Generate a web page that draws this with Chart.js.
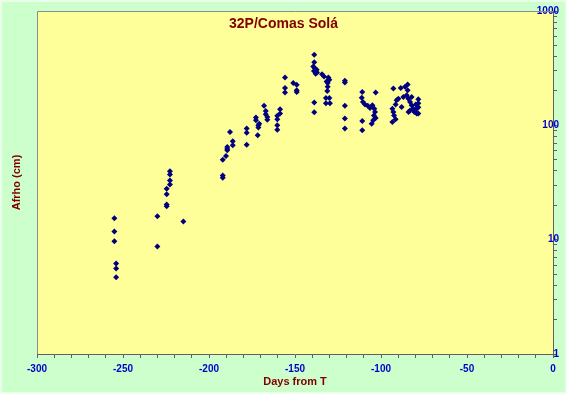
<!DOCTYPE html>
<html lang="en">
<head>
    <meta charset="UTF-8">
    <title>32P/Comas Solá</title>
    <script src="https://cdn.jsdelivr.net/npm/chart.js"></script>
    <style>
        html, body {
            margin: 0;
            padding: 0;
            background: #ccffcc;
        }
        canvas {
            display: block;
        }
    </style>
</head>
<body>
    <canvas id="afrhoChart" width="567" height="394"></canvas>
    <script>
        const days = [
            -255, -255, -255, -254, -254, -254,
            -230, -230,
            -224.6, -224.6, -224.6, -224.6,
            -222.7, -222.7, -222.7, -222.7,
            -214.9,
            -192, -192, -192,
            -190.1,
            -189.4, -189.4, -189.4,
            -187.8,
            -186.2, -186.2,
            -178.1, -178.1, -178.1,
            -172.7, -172.7,
            -171.7,
            -171.3, -171.3,
            -170.8,
            -168,
            -167, -167,
            -166.1, -166.1,
            -160.3, -160.3, -160.3, -160.3,
            -158.7, -158.7,
            -155.8, -155.8, -155.8,
            -151,
            -149, -149, -149,
            -138.8, -138.8, -138.8, -138.8,
            -139.4, -138.4, -137.4, -139, -137.2, -138,
            -134.3, -133.1, -130.6, -130, -131.6,
            -131, -131, -131.2,
            -132, -132, -130, -129.7,
            -121, -121, -121, -121, -121,
            -110.9, -110.9, -110.9,
            -111.2, -110.5, -109.3, -107.7, -106.4, -105, -103.9, -103.5, -104.1,
            -103.1, -103.1, -104.5, -105.4,
            -92.8, -92.8, -88.5, -86, -84.5, -84.5,
            -90.9, -89.9, -91.5, -91.5, -93.4, -93.4, -92.4,
            -87, -85.1, -84.1, -83.1, -83.1, -82.2, -82.2, -81.2, -80.6, -79.8, -79.2, -79.2,
            -78.3, -78.3, -78.3, -78.3,
            -88, -84
        ];
        const afrho = [
            15.4, 11.8, 9.7, 6.2, 5.6, 4.7,
            16.0, 8.7,
            19.6, 20.3, 25.0, 27.9,
            39.7, 37.2, 32.9, 30.4,
            14.4,
            36.4, 34.8, 50.0,
            53.8,
            64.5, 62.0, 60.4,
            87.3,
            72.4, 66.8,
            94, 86.3, 67.7,
            117, 110.7,
            81.7,
            100, 95.5,
            103.5,
            148,
            133.6, 125,
            118, 112,
            121, 113, 100, 91.7,
            138, 127,
            262, 212, 194,
            235,
            227, 203, 196,
            414, 357, 158, 130,
            327, 316, 306, 298, 290, 282,
            280, 267, 262, 250, 242,
            234, 218, 200,
            173, 156, 173, 156,
            245, 237, 148, 115, 94,
            196, 109, 90.4,
            174, 160, 152, 148, 142, 150, 140, 131, 122,
            116, 194, 111, 103.5,
            210, 131, 212, 217, 228, 203,
            166, 171, 152, 113, 140, 107, 122,
            177, 183, 171, 160, 135, 177, 150, 140, 131, 152, 140, 127,
            169, 156, 144, 127,
            145, 131
        ];

        // Axis ticks
        const xTicks = [-300, -290, -280, -270, -260, -250, -240, -230, -220, -210,
            -200, -190, -180, -170, -160, -150, -140, -130, -120, -110,
            -100, -90, -80, -70, -60, -50, -40, -30, -20, -10, 0];
        const xLabels = [-300, -250, -200, -150, -100, -50, 0];
        const yTicks = [1, 2, 3, 4, 5, 6, 7, 8, 9,
            10, 20, 30, 40, 50, 60, 70, 80, 90,
            100, 200, 300, 400, 500, 600, 700, 800, 900, 1000];
        const yLabels = [1, 10, 100, 1000];

        const points = days.map((d, i) => ({ x: d, y: afrho[i] }));

        const labelFont = { family: "'Liberation Sans', Arial, sans-serif", size: 10, weight: 'bold', lineHeight: 1 };
        const titleFont = { family: "'Liberation Sans', Arial, sans-serif", size: 11, weight: 'bold' };

        // Green page, yellow plot area, grey frame and the chart title
        const backdrop = {
            id: 'backdrop',
            beforeDraw(chart) {
                const { ctx, chartArea: a } = chart;
                ctx.save();
                ctx.fillStyle = '#ccffcc';
                ctx.fillRect(0, 0, chart.width, chart.height);
                ctx.strokeStyle = '#eaffea';
                ctx.lineWidth = 2;
                ctx.strokeRect(1, 1, chart.width - 2, chart.height - 2);
                ctx.fillStyle = '#ffff99';
                ctx.fillRect(a.left, a.top, a.right - a.left, a.bottom - a.top);
                ctx.restore();
            },
            afterDraw(chart) {
                const { ctx, chartArea: a } = chart;
                ctx.save();
                ctx.strokeStyle = '#8c8c8c';
                ctx.lineWidth = 1;
                ctx.beginPath();
                ctx.moveTo(a.left + 0.5, a.bottom);
                ctx.lineTo(a.left + 0.5, a.top + 0.5);
                ctx.lineTo(a.right, a.top + 0.5);
                ctx.stroke();
                ctx.fillStyle = '#800000';
                ctx.font = "bold 14px 'Liberation Sans', Arial, sans-serif";
                ctx.textAlign = 'center';
                ctx.textBaseline = 'middle';
                ctx.fillText('32P/Comas Solá', chart.width / 2, 24);
                ctx.restore();
            }
        };

        const ctx = document.getElementById('afrhoChart').getContext('2d');
        new Chart(ctx, {
            type: 'scatter',
            data: {
                datasets: [{
                    data: points,
                    pointStyle: 'rectRot',
                    pointRadius: 3,
                    borderWidth: 0,
                    backgroundColor: '#000080',
                    borderColor: '#000080'
                }]
            },
            options: {
                responsive: false,
                animation: false,
                layout: { padding: { left: 3, top: 11, right: 0, bottom: 2 } },
                plugins: {
                    legend: { display: false },
                    tooltip: { enabled: false }
                },
                scales: {
                    x: {
                        type: 'linear',
                        position: 'bottom',
                        min: -300,
                        max: 0,
                        afterBuildTicks: scale => {
                            scale.ticks = xTicks.map(v => ({ value: v }));
                        },
                        afterFit: scale => {
                            scale.height = 38;
                        },
                        ticks: {
                            autoSkip: false,
                            maxRotation: 0,
                            padding: 6,
                            color: '#0000cc',
                            font: labelFont,
                            callback: v => xLabels.includes(v) ? String(v) : ''
                        },
                        grid: {
                            drawOnChartArea: false,
                            drawTicks: true,
                            tickLength: 4,
                            color: '#606060'
                        },
                        border: { display: true, color: '#606060' },
                        title: {
                            display: true,
                            text: 'Days from T',
                            color: '#800000',
                            font: titleFont,
                            padding: { top: 1, bottom: 3 }
                        }
                    },
                    y: {
                        type: 'logarithmic',
                        position: 'right',
                        min: 1,
                        max: 1000,
                        afterBuildTicks: scale => {
                            scale.ticks = yTicks.map(v => ({ value: v }));
                        },
                        afterFit: scale => {
                            scale.width = 14;
                        },
                        ticks: {
                            mirror: true,
                            autoSkip: false,
                            padding: 6,
                            color: '#0000cc',
                            font: labelFont,
                            callback: v => yLabels.includes(v) ? String(v) : ''
                        },
                        grid: {
                            drawOnChartArea: false,
                            drawTicks: true,
                            tickLength: 4,
                            color: '#606060'
                        },
                        border: { display: true, color: '#606060' }
                    },
                    yTitle: {
                        type: 'linear',
                        position: 'left',
                        min: 0,
                        max: 1,
                        afterFit: scale => {
                            scale.width = 34;
                        },
                        grid: { display: false },
                        ticks: { display: false },
                        border: { display: false },
                        title: {
                            display: true,
                            text: 'Afrho (cm)',
                            color: '#800000',
                            font: titleFont,
                            padding: { top: 7, bottom: 6 }
                        }
                    }
                }
            },
            plugins: [backdrop]
        });
    </script>
</body>
</html>
